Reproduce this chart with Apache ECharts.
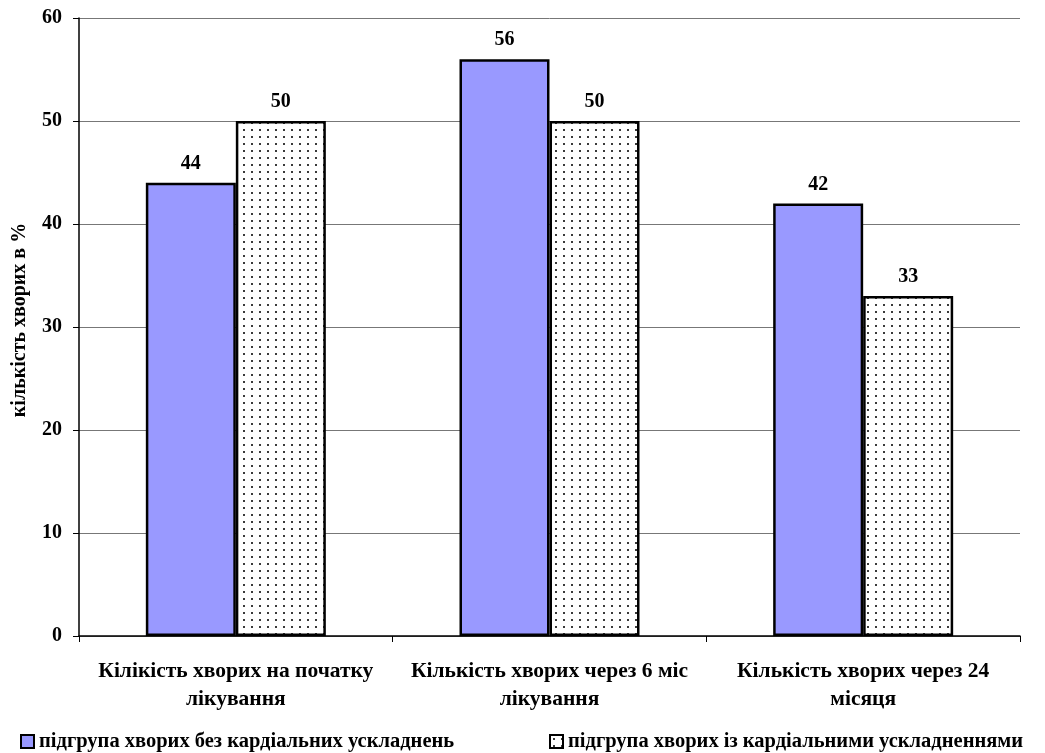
<!DOCTYPE html>
<html>
<head>
<meta charset="utf-8">
<script src="https://cdn.jsdelivr.net/npm/echarts@6/dist/echarts.min.js"></script>
<style>
html,body{margin:0;padding:0;background:#fff;}
#chart{width:1045px;height:753px;}
</style>
</head>
<body>
<div id="chart"></div>
<script>
// Categories and series values
var categories = [
  'Кілікість хворих на початку\nлікування',
  'Кількість хворих через 6 міс\nлікування',
  'Кількість хворих через 24\nмісяця'
];
var seriesNames = [
  'підгрупа хворих без кардіальних ускладнень',
  'підгрупа хворих із кардіальними ускладненнями'
];
var withoutComplications = [44, 56, 42];
var withComplications = [50, 50, 33];
var yTicks = [0, 10, 20, 30, 40, 50, 60];
var yAxisTitle = 'кількість хворих в %';

// Dotted fill tile for the second series
function dotPattern() {
  var c = document.createElement('canvas');
  c.width = 8; c.height = 7;
  var g = c.getContext('2d');
  g.fillStyle = '#ffffff';
  g.fillRect(0, 0, 8, 7);
  g.fillStyle = '#3a3a3a';
  g.fillRect(3, 3, 2, 2);
  return c;
}

var FONT = '"Liberation Serif", "Times New Roman", serif';
var chart = echarts.init(document.getElementById('chart'), null, {renderer: 'canvas'});

var labelStyle = {
  show: true, position: 'top', distance: 9,
  fontFamily: FONT, fontWeight: 'bold', fontSize: 20, color: '#000'
};
var legendText = {fontFamily: FONT, fontWeight: 'bold', fontSize: 20.5, color: '#000'};

chart.setOption({
  animation: false,
  backgroundColor: '#fff',
  grid: {left: 79, right: 25, top: 18, bottom: 117, containLabel: false},
  legend: [
    {
      data: [seriesNames[0]], left: 20, top: 731, itemWidth: 13, itemHeight: 13, itemGap: 4,
      icon: 'rect', textStyle: legendText, padding: 0,
      itemStyle: {borderColor: '#000', borderWidth: 2}
    },
    {
      data: [seriesNames[1]], left: 549, top: 731, itemWidth: 13, itemHeight: 13, itemGap: 4,
      icon: 'rect', textStyle: legendText, padding: 0,
      itemStyle: {borderColor: '#000', borderWidth: 2}
    }
  ],
  graphic: [{
    type: 'text',
    x: 20, y: 320,
    rotation: Math.PI / 2,
    style: {
      text: yAxisTitle, fill: '#000',
      font: 'bold 20px ' + FONT,
      align: 'center', verticalAlign: 'middle'
    }
  }],
  xAxis: {
    type: 'category',
    data: categories,
    axisLine: {lineStyle: {color: '#000', width: 1.5}},
    axisTick: {show: true, length: 6, lineStyle: {color: '#000'}},
    axisLabel: {
      interval: 0, hideOverlap: false,
      margin: 21, fontFamily: FONT, fontWeight: 'bold', fontSize: 21.5,
      color: '#000', lineHeight: 28
    }
  },
  yAxis: {
    type: 'value',
    min: yTicks[0], max: yTicks[yTicks.length - 1], interval: 10,
    axisLine: {show: true, lineStyle: {color: '#000', width: 1.5}},
    axisTick: {show: true, length: 6, lineStyle: {color: '#000'}},
    axisLabel: {margin: 17, fontFamily: FONT, fontWeight: 'bold', fontSize: 20, color: '#000'},
    splitLine: {show: true, lineStyle: {color: '#777', width: 1}}
  },
  series: [
    {
      name: seriesNames[0], type: 'bar', data: withoutComplications,
      barWidth: 90, barGap: '0%',
      itemStyle: {color: '#9999FF', borderColor: '#000', borderWidth: 2.5},
      label: labelStyle
    },
    {
      name: seriesNames[1], type: 'bar', data: withComplications,
      barWidth: 90, barGap: '0%',
      itemStyle: {color: {image: dotPattern(), repeat: 'repeat'}, borderColor: '#000', borderWidth: 2.5},
      label: labelStyle
    }
  ]
});
</script>
</body>
</html>
